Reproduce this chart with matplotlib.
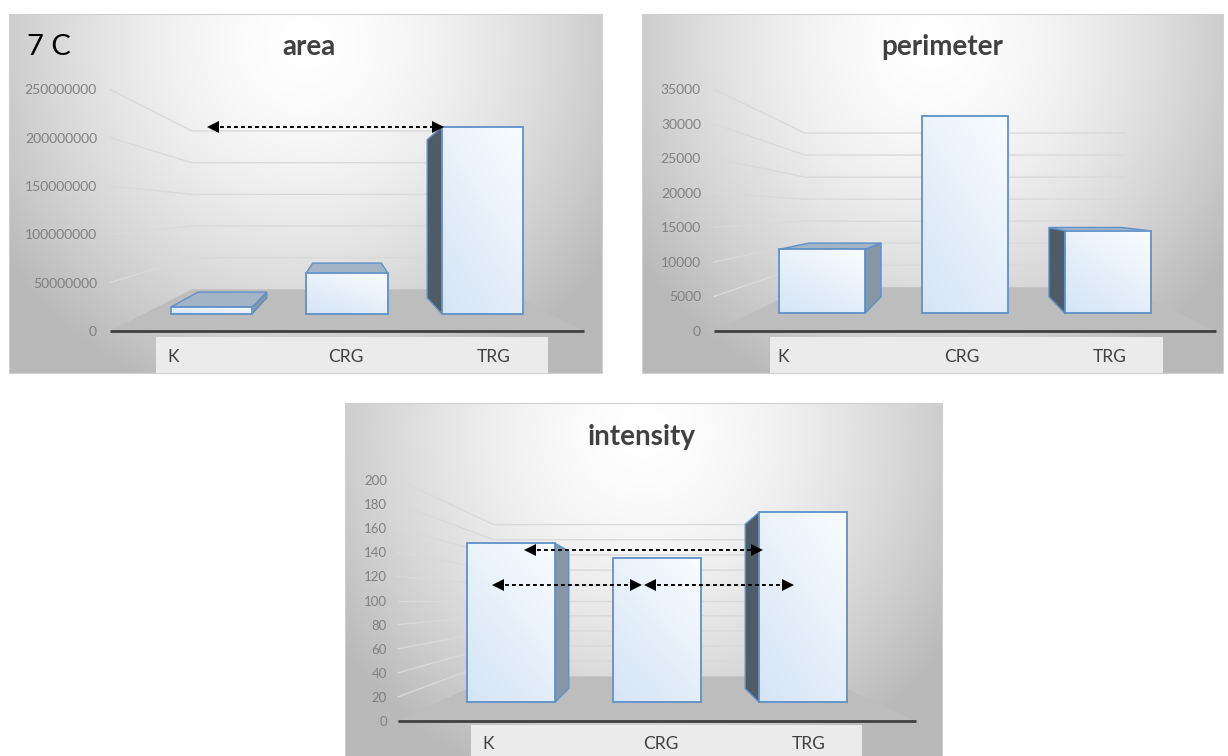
import numpy as np
import matplotlib
matplotlib.use("Agg")
import matplotlib.pyplot as plt
from matplotlib.patches import Polygon, Rectangle
from matplotlib.colors import to_rgb

plt.rcParams["font.family"] = ["Lato", "DejaVu Sans"]

# ---------------------------------------------------------------- data
categories = ["K", "CRG", "TRG"]

area_values = [8.1e6, 4.95e7, 2.253e8]
area_ticks = [0, 5e7, 1e8, 1.5e8, 2e8, 2.5e8]
area_tick_labels = ["0", "50000000", "100000000", "150000000", "200000000", "250000000"]

perimeter_values = [10850, 33500, 14000]
perimeter_ticks = [0, 5000, 10000, 15000, 20000, 25000, 30000, 35000]
perimeter_tick_labels = ["0", "5000", "10000", "15000", "20000", "25000", "30000", "35000"]

intensity_values = [156.2, 142.0, 186.6]
intensity_ticks = [0, 20, 40, 60, 80, 100, 120, 140, 160, 180, 200]
intensity_tick_labels = ["0", "20", "40", "60", "80", "100", "120", "140", "160", "180", "200"]

# ---------------------------------------------------------------- layout (pixels)
W, H = 1228, 756
fig = plt.figure(figsize=(W / 100, H / 100), dpi=100)
fig.patch.set_facecolor("white")

panels = [
    dict(title="area", values=area_values, ticks=area_ticks, labels=area_tick_labels,
         box=(9, 14, 602, 373), front=(110, 584, 331, 89.3),
         band=(156, 548, 337, 373), cat_x=(173, 346, 494), cat_y=357.5,
         title_xy=(309, 55), pad=9.4, tick_size=10,
         s_floor=0.655, s_front=0.857, s_back=0.725,
         arrows=[((0.652, "top2"), (2.076, "top2"))]),
    dict(title="perimeter", values=perimeter_values, ticks=perimeter_ticks,
         labels=perimeter_tick_labels,
         box=(642, 14, 1223, 373), front=(714, 1216, 331, 89.3),
         band=(770, 1163, 337, 373), cat_x=(783, 961.7, 1110), cat_y=357.5,
         title_xy=(942, 55), pad=9.4, tick_size=10,
         s_floor=0.638, s_front=0.854, s_back=0.717, arrows=[]),
    dict(title="intensity", values=intensity_values, ticks=intensity_ticks,
         labels=intensity_tick_labels,
         box=(345, 403, 942, 762), front=(398, 916, 721, 480),
         band=(471, 862, 725, 762), cat_x=(488, 661, 809), cat_y=744,
         title_xy=(642, 445), pad=7.9, tick_size=9.5,
         s_floor=0.63, s_front=0.845, s_back=0.73,
         arrows=[((0.764, 142.3), (2.079, 142.3)),
                 ((0.579, 112.9), (1.378, 112.9)),
                 ((1.459, 112.9), (2.258, 112.9))]),
]

EDGE = "#5f90c8"
SIDE_RIGHT = "#8796a4"
SIDE_LEFT = "#4f5c68"
TOP = "#a3b4c6"
FLOOR = "#bdbdbd"
GRID = "#d9d9d9"


def background_image():
    ny, nx = 200, 300
    X, Y = np.meshgrid(np.linspace(0, 1, nx), np.linspace(0, 1, ny))
    r = np.sqrt(((X - 0.5) / 0.62) ** 2 + ((Y - 0.92) / 1.05) ** 2)
    t = np.clip(r, 0, 1) ** 1.6
    c_in = np.array([1.0, 1.0, 1.0])
    c_out = np.array(to_rgb("#b9b9b9"))
    return c_in * (1 - t[..., None]) + c_out * t[..., None]


def face_image():
    ny, nx = 60, 40
    U, V = np.meshgrid(np.linspace(0, 1, nx), np.linspace(0, 1, ny))
    t = np.clip(0.6 * (1 - V) + 0.4 * (1 - U), 0, 1)
    c_lo = np.array(to_rgb("#d5e4f5"))
    c_hi = np.array(to_rgb("#f9fcff"))
    return c_hi * (1 - t[..., None]) + c_lo * t[..., None]


BG = background_image()
FACE = face_image()


def draw_panel(p):
    bx0, by0, bx1, by1 = p["box"]
    bg = fig.add_axes([bx0 / W, 1 - by1 / H, (bx1 - bx0) / W, (by1 - by0) / H], zorder=0)
    bg.imshow(BG, extent=[0, 1, 0, 1], origin="lower", aspect="auto", interpolation="bilinear")
    bg.set_xlim(0, 1)
    bg.set_ylim(0, 1)
    bg.axis("off")
    bg.add_patch(Rectangle((0, 0), 1, 1, transform=bg.transAxes, fill=False,
                           ec="#d0d0d0", lw=0.8, clip_on=False))

    def fx(px):
        return (px - bx0) / (bx1 - bx0)

    def fy(py):
        return (by1 - py) / (by1 - by0)

    # category band and labels
    b0, b1, bt, bb = p["band"]
    bg.add_patch(Rectangle((fx(b0), fy(bb)), fx(b1) - fx(b0), fy(bt) - fy(bb),
                           facecolor="#ebebeb", edgecolor="none"))
    for name, cx in zip(categories, p["cat_x"]):
        bg.text(fx(cx), fy(p["cat_y"]), name, ha="center", va="center",
                fontsize=12.5, color="#404040")
    tx, ty = p["title_xy"]
    bg.text(fx(tx), fy(ty), p["title"], ha="center", va="baseline",
            fontsize=20, fontweight="bold", color="#404040")

    # plot area: front plane of the floor spans x 0..n, value 0..vmax
    L, R, y0, ytop = p["front"]
    ax = fig.add_axes([L / W, 1 - y0 / H, (R - L) / W, (y0 - ytop) / H], zorder=1)
    ax.set_facecolor("none")
    for sp in ax.spines.values():
        sp.set_visible(False)

    values = p["values"]
    ticks = p["ticks"]
    n = len(categories)
    vmax = ticks[-1]
    xc = n / 2.0
    ve = vmax / 2.0

    def proj(x, v, s):
        return (xc + (x - xc) * s, ve + (v - ve) * s)

    sf, sb, sw = p["s_front"], p["s_back"], p["s_floor"]

    # wall gridlines: side wall then back wall
    for t in ticks[1:]:
        pts = [proj(0, t, 1.0), proj(0, t, sw), proj(n, t, sw)]
        ax.plot([q[0] for q in pts], [q[1] for q in pts], color=GRID, lw=1.0,
                zorder=1, solid_joinstyle="miter")

    # floor
    floor = [proj(0, 0, 1.0), proj(n, 0, 1.0), proj(n, 0, sw), proj(0, 0, sw)]
    ax.add_patch(Polygon(floor, closed=True, facecolor=FLOOR, edgecolor="none", zorder=2))
    ax.plot([0, n], [0, 0], color="#404040", lw=2.0, zorder=3, solid_capstyle="butt")

    # bars
    for i, v in enumerate(values):
        x0, x1 = i + 0.2, i + 0.8
        z = 4 + i
        if (x0 + x1) / 2 < xc - 1e-9:
            side = [proj(x1, 0, sf), proj(x1, 0, sb), proj(x1, v, sb), proj(x1, v, sf)]
            ax.add_patch(Polygon(side, closed=True, facecolor=SIDE_RIGHT, edgecolor=EDGE,
                                 lw=1.0, zorder=z))
        elif (x0 + x1) / 2 > xc + 1e-9:
            side = [proj(x0, 0, sf), proj(x0, 0, sb), proj(x0, v, sb), proj(x0, v, sf)]
            ax.add_patch(Polygon(side, closed=True, facecolor=SIDE_LEFT, edgecolor=EDGE,
                                 lw=1.0, zorder=z))
        if v < ve:
            top = [proj(x0, v, sf), proj(x1, v, sf), proj(x1, v, sb), proj(x0, v, sb)]
            ax.add_patch(Polygon(top, closed=True, facecolor=TOP, edgecolor=EDGE,
                                 lw=1.0, zorder=z + 0.1))
        fl, fb = proj(x0, 0, sf)
        fr, ft = proj(x1, v, sf)
        ax.imshow(FACE, extent=[fl, fr, fb, ft], origin="lower", aspect="auto",
                  interpolation="bilinear", zorder=z + 0.2)
        ax.add_patch(Rectangle((fl, fb), fr - fl, ft - fb, facecolor="none",
                               edgecolor=EDGE, lw=1.3, zorder=z + 0.3))

    # comparison arrows
    for (xa, ya), (xb, yb) in p["arrows"]:
        if ya == "top2":
            ya = proj(0, values[2], sf)[1]
        if yb == "top2":
            yb = proj(0, values[2], sf)[1]
        ax.plot([xa, xb], [ya, yb], color="black", lw=1.4, ls=(0, (2, 1.6)), zorder=20)
        ax.plot([xa], [ya], marker="<", color="black", ms=8, mew=0, zorder=21, clip_on=False)
        ax.plot([xb], [yb], marker=">", color="black", ms=8, mew=0, zorder=21, clip_on=False)

    ax.set_xlim(0, n)
    ax.set_ylim(0, vmax)
    ax.set_xticks([])
    ax.set_yticks(ticks)
    ax.set_yticklabels(p["labels"])
    ax.tick_params(axis="y", length=0, pad=p["pad"], labelsize=p["tick_size"],
                   labelcolor="#808080")
    for child in ax.get_children():
        try:
            child.set_clip_on(False)
        except Exception:
            pass
    return bg


for p in panels:
    draw_panel(p)

# figure panel tag
fig.text(27 / W, 1 - 55 / H, "7 C", ha="left", va="baseline", fontsize=21, color="black",
         zorder=5)

fig.savefig("out.png", dpi=100, facecolor="white")
